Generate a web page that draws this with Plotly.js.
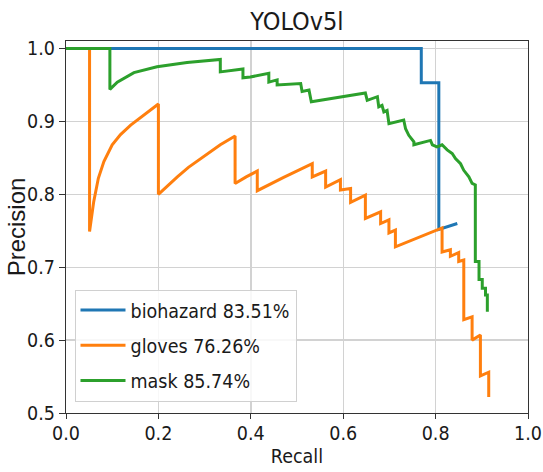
<!DOCTYPE html>
<html>
<head>
<meta charset="utf-8">
<script src="https://cdn.plot.ly/plotly-3.0.1.min.js"></script>
<style>
  html, body { margin: 0; padding: 0; background: #fff; }
  #chart { width: 543px; height: 472px; }
</style>
</head>
<body>
<div id="chart"></div>
<script>
// Series names / legend labels
const seriesNames = ["biohazard 83.51%", "gloves 76.26%", "mask 85.74%"];
const seriesColors = ["#1f77b4", "#ff7f0e", "#2ca02c"];

// Axis ticks
const xTickVals = [0.0, 0.2, 0.4, 0.6, 0.8, 1.0];
const yTickVals = [0.5, 0.6, 0.7, 0.8, 0.9, 1.0];

// biohazard PR curve (recall, precision)
const biohazardRecall    = [0, 0.769, 0.769, 0.807, 0.807, 0.847];
const biohazardPrecision = [1.0, 1.0, 0.953, 0.953, 0.752, 0.760];

// gloves PR curve
const glovesRecall = [0, 0.051, 0.051, 0.060, 0.070, 0.082, 0.100, 0.118, 0.140, 0.161, 0.180, 0.200,
  0.200, 0.220, 0.241, 0.265, 0.291, 0.312, 0.334, 0.366,
  0.366, 0.390, 0.414, 0.414, 0.470, 0.533,
  0.533, 0.562, 0.562, 0.594, 0.594, 0.616, 0.616, 0.648, 0.648, 0.681, 0.681, 0.699, 0.699, 0.713, 0.713,
  0.814, 0.814, 0.832, 0.832, 0.850, 0.850, 0.861, 0.861, 0.879, 0.879, 0.897, 0.897, 0.915, 0.915];
const glovesPrecision = [1.0, 1.0, 0.749, 0.790, 0.822, 0.845, 0.868, 0.882, 0.895, 0.905, 0.915, 0.924,
  0.800, 0.812, 0.824, 0.837, 0.849, 0.859, 0.868, 0.880,
  0.815, 0.824, 0.832, 0.805, 0.823, 0.842,
  0.824, 0.832, 0.810, 0.820, 0.806, 0.808, 0.789, 0.799, 0.767, 0.776, 0.760, 0.765, 0.747, 0.751, 0.728,
  0.754, 0.721, 0.724, 0.715, 0.720, 0.708, 0.710, 0.628, 0.632, 0.600, 0.607, 0.551, 0.556, 0.522];

// mask PR curve
const maskRecall = [0, 0.095, 0.095, 0.111, 0.147, 0.197, 0.262, 0.334,
  0.334, 0.383, 0.383, 0.399, 0.439, 0.439, 0.457, 0.457, 0.508, 0.511, 0.526, 0.531,
  0.648, 0.652, 0.674, 0.677, 0.684, 0.688, 0.695, 0.699, 0.731, 0.735, 0.742, 0.753, 0.753,
  0.789, 0.793, 0.803, 0.814, 0.825, 0.836, 0.843, 0.854, 0.861, 0.872, 0.879, 0.886,
  0.886, 0.894, 0.894, 0.901, 0.901, 0.908, 0.908, 0.912, 0.912];
const maskPrecision = [1.0, 1.0, 0.944, 0.954, 0.967, 0.975, 0.981, 0.985,
  0.968, 0.972, 0.960, 0.961, 0.966, 0.954, 0.957, 0.950, 0.952, 0.941, 0.943, 0.927,
  0.939, 0.929, 0.934, 0.920, 0.922, 0.913, 0.915, 0.897, 0.902, 0.890, 0.881, 0.872, 0.868,
  0.874, 0.868, 0.865, 0.868, 0.861, 0.856, 0.849, 0.842, 0.833, 0.824, 0.815, 0.813,
  0.708, 0.708, 0.683, 0.683, 0.671, 0.671, 0.662, 0.662, 0.639];

const chartTitle = "YOLOv5l";
const xLabel = "Recall";
const yLabel = "Precision";

const NARROW = "'Liberation Sans Narrow', 'DejaVu Sans Condensed', 'Arial Narrow', sans-serif";

const xs = [biohazardRecall, glovesRecall, maskRecall];
const ys = [biohazardPrecision, glovesPrecision, maskPrecision];

const traces = xs.map((x, i) => ({
  x: x, y: ys[i], type: "scatter", mode: "lines",
  name: seriesNames[i], legendgroup: "g" + i,
  line: { color: seriesColors[i], width: 3 }
}));

const layout = {
  width: 543, height: 472,
  margin: { l: 65.5, r: 15.3, t: 40.7, b: 58.7, pad: 0 },
  paper_bgcolor: "#fff", plot_bgcolor: "#fff",
  font: { family: NARROW, size: 19.5, color: "#1a1a1a" },
  title: {
    text: chartTitle, font: { family: NARROW, size: 25, color: "#1a1a1a" },
    x: 0.5, xref: "paper", xanchor: "center",
    y: 1 - 21.5 / 472, yref: "container", yanchor: "middle"
  },
  xaxis: {
    range: [0, 1], tickmode: "array", tickvals: xTickVals, tickformat: ".1f",
    showgrid: true, gridcolor: "#d2d2d2", gridwidth: 1.4,
    zeroline: false, showline: true, linecolor: "#333", linewidth: 1.2, mirror: true,
    ticks: "outside", ticklen: 5, tickcolor: "#333", ticklabelstandoff: -3,
    tickfont: { family: NARROW, size: 19.5, color: "#1a1a1a" },
    title: { text: xLabel, font: { family: NARROW, size: 19.5, color: "#1a1a1a" }, standoff: 5 }
  },
  yaxis: {
    range: [0.5, 1.0104], tickmode: "array", tickvals: yTickVals, tickformat: ".1f",
    showgrid: true, gridcolor: "#d2d2d2", gridwidth: 1.4,
    zeroline: false, showline: true, linecolor: "#333", linewidth: 1.2, mirror: true,
    ticks: "outside", ticklen: 6, tickcolor: "#333",
    tickfont: { family: NARROW, size: 19.5, color: "#1a1a1a" },
    title: { text: yLabel, font: { family: "'Liberation Sans', sans-serif", size: 24, color: "#1a1a1a" }, standoff: 0 }
  },
  showlegend: true,
  legend: {
    x: 0.0184, y: 0.0303, xanchor: "left", yanchor: "bottom",
    bgcolor: "rgba(255,255,255,0.85)", bordercolor: "#d0d0d0", borderwidth: 1,
    font: { family: NARROW, size: 19.5, color: "#1a1a1a" },
    tracegroupgap: 7, itemwidth: 45
  }
};

Plotly.newPlot("chart", traces, layout, { displayModeBar: false, staticPlot: true }).then(gd => {
  // nudge the y-axis title slightly right, next to the tick labels as in the reference
  const yt = gd.querySelector("g.g-ytitle");
  if (yt) yt.setAttribute("transform", "translate(6,0)");
});
</script>
</body>
</html>
